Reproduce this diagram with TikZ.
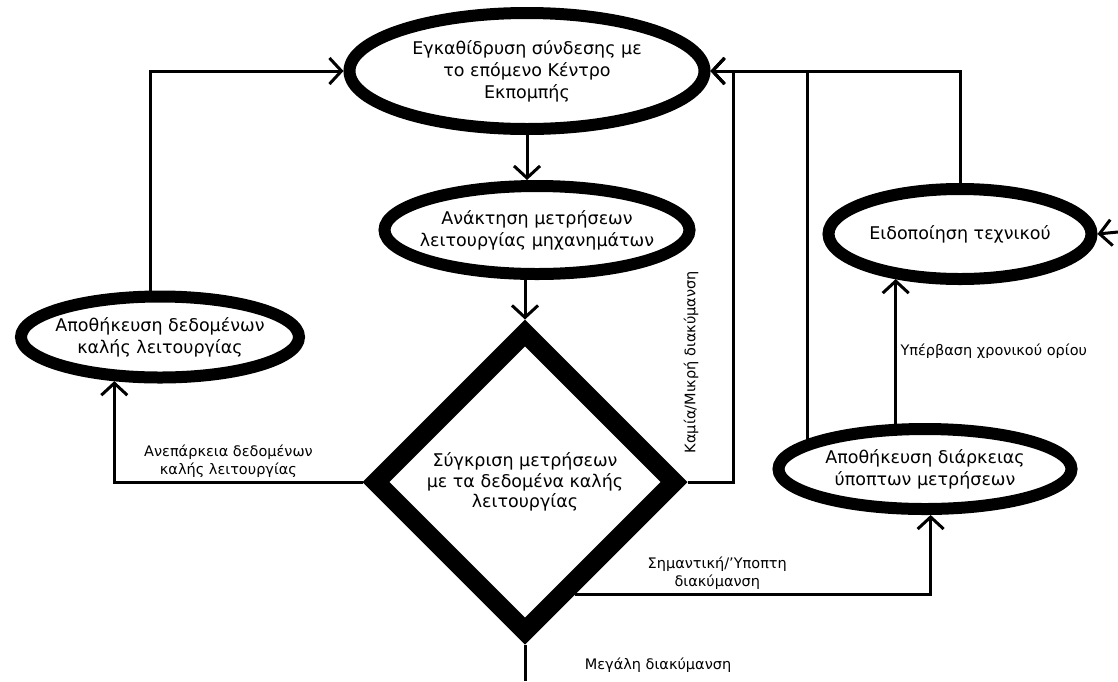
\documentclass[tikz,border=0pt]{standalone}
\usepackage{fontspec}
\setmainfont{DejaVu Sans}
\usetikzlibrary{shapes.geometric, arrows.meta}

\begin{document}
\begin{tikzpicture}[
    x=1pt, y=-1pt,
    line width=3pt,
    >={Straight Barb[length=12pt, width=26pt]},
    task/.style={ellipse, draw, line width=12pt, inner xsep=-25pt, inner ysep=0pt,
        align=center, font=\fontsize{17.5}{22}\selectfont},
    decision/.style={diamond, draw, line width=19pt, aspect=1, inner sep=0pt,
        align=center, font=\fontsize{17.5}{20.5}\selectfont},
    note/.style={align=center, font=\fontsize{14.5}{18}\selectfont}
]
    \fill[white] (0,0) rectangle (1118,681);
    \useasboundingbox (0,0) rectangle (1118,681);

    \node[task, minimum width=355pt, minimum height=116pt] (connect) at (527,71)
        {Εγκαθίδρυση σύνδεσης με\\το επόμενο Κέντρο\\Εκπομπής};
    \node[task, minimum width=305pt, minimum height=88pt] (fetch) at (537,230)
        {Ανάκτηση μετρήσεων\\λειτουργίας μηχανημάτων};
    \node[decision, minimum width=306pt, minimum height=306pt] (compare) at (525,482)
        {Σύγκριση μετρήσεων\\με τα δεδομένα καλής\\λειτουργίας};
    \node[task, minimum width=278pt, minimum height=81pt] (storegood) at (160,337)
        {Αποθήκευση δεδομένων\\καλής λειτουργίας};
    \node[task, minimum width=263pt, minimum height=90pt] (notify) at (960,234)
        {Ειδοποίηση τεχνικού};
    \node[task, minimum width=293pt, minimum height=80pt] (storetime) at (925,469)
        {Αποθήκευση διάρκειας\\ύποπτων μετρήσεων};

    \coordinate (offpage) at (1118,232);
    \coordinate (below) at (525,681);

    % main column
    \draw[->] (connect.south) -- (connect.south |- fetch.north);
    \draw[->] (fetch.south -| compare.north) -- (compare.north);

    % left loop
    \draw[->] (compare.west) -| node[note, pos=0.27, above]
        {Ανεπάρκεια δεδομένων\\καλής λειτουργίας} (storegood.224);
    \draw[->] (storegood.102) |- (connect.west);

    % back to the top
    \draw[->] (compare.east) -- ++(46,0) |- (connect.east);
    \node[note, rotate=90] (nochange) at (691,362) {Καμία/Μικρή διακύμανση};
    \draw[->] (storetime.166) |- (connect.east);
    \draw[->] (notify.north) |- (connect.east);

    % right branch
    \draw[->] (compare.294) -| node[note, pos=0.2, above]
        {Σημαντική/'Υποπτη\\διακύμανση} (storetime.277);
    \draw[->] (storetime.123) -- node[note, pos=0.5, right]
        {Υπέρβαση χρονικού ορίου} (storetime.123 |- notify.215);
    \draw[->] (offpage) -- (notify.east);

    % bottom exit
    \draw (compare.south) -- node[note, pos=0.58, right=55pt]
        {Μεγάλη διακύμανση} (below);
\end{tikzpicture}
\end{document}
